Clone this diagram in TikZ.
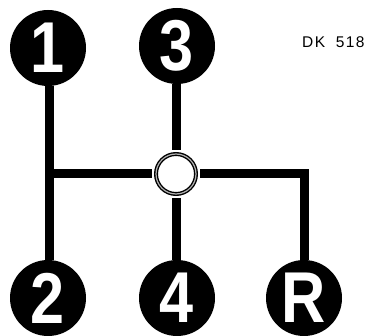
\documentclass[tikz,border=0pt]{standalone}
\usepackage{fontspec}
\setmainfont{Liberation Sans}
\newfontfamily\gearfont{Liberation Sans}
\newfontfamily\labelfont{Liberation Sans}[LetterSpace=9,WordSpace=1.9]
\begin{document}
\begin{tikzpicture}[x=1pt,y=-1pt,
  gear/.style={circle, fill=black, minimum size=76pt, inner sep=0pt, outer sep=0pt,
    text=white, font=\gearfont\bfseries\fontsize{72}{72}\selectfont},
  rail/.style={line width=9pt, draw=black},
  ring/.style={circle, draw=black, line width=4pt, minimum size=40pt, inner sep=0pt, outer sep=4pt}]
\useasboundingbox (0,0) rectangle (369,336);
\node[gear] (g1) at (48,48) {\scalebox{0.85}[1]{1}};
\node[gear] (g3) at (177,46) {\scalebox{0.85}[1]{3}};
\node[gear] (g2) at (48,298) {\scalebox{0.85}[1]{2}};
\node[gear] (g4) at (177,298) {\scalebox{0.85}[1]{4}};
\node[gear] (gR) at (304,298) {\scalebox{0.85}[1]{R}};
\node[ring] (c) at (176,174) {};
\draw[gray!60, line width=1.2pt] (c.center) circle (20pt);
\coordinate (j) at (49,174);
\coordinate (k) at (304,174);
\draw[rail] (g1.south -| j) -- (g2.north -| j);
\draw[rail] (j) -- (c);
\draw[rail] (g3.south -| c) -- (c);
\draw[rail] (c) -- (g4.north -| c);
\draw[rail, line join=miter] (c) -- (k) -- (gR.north);
\node[anchor=base west, inner sep=0pt, font=\labelfont\fontsize{15.5}{15.5}\selectfont] (dk) at (302,48) {DK 518};
\end{tikzpicture}
\end{document}
